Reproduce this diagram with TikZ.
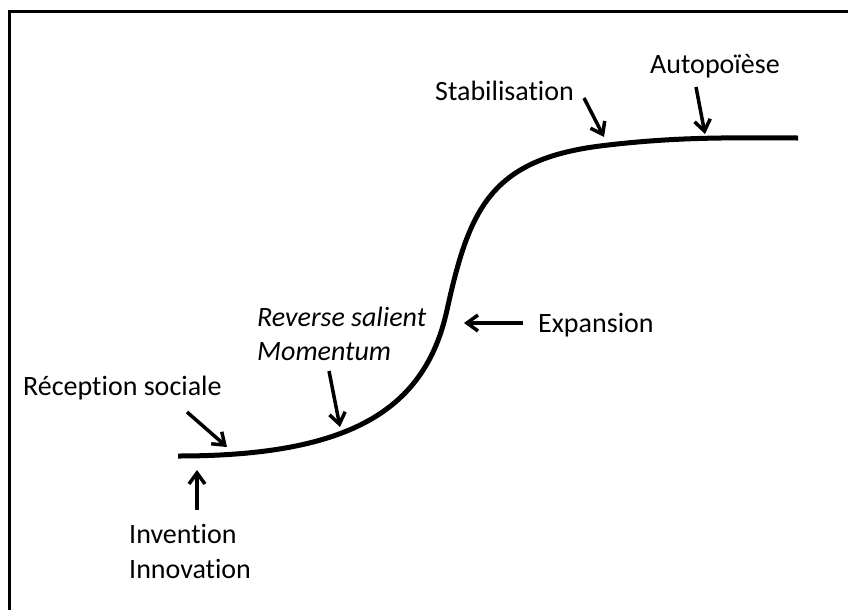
\documentclass[tikz,border=0pt]{standalone}
\usepackage{fontspec}
\setmainfont{Carlito}[Ligatures=NoCommon]
\usetikzlibrary{arrows.meta,positioning}

\begin{document}
\begin{tikzpicture}[x=1pt, y=-1pt,
        every node/.style={inner sep=0pt, anchor=base west, font=\fontsize{28}{35}\selectfont},
        pointer/.style={line width=3.5pt, -{Straight Barb[length=11pt, width=16pt]}},
        curve/.style={line width=5pt}
      ]
        \useasboundingbox (0,0) rectangle (848,610);
        % frame (left and top edges only)
        \draw[line width=3pt] (9,610) -- (9,12) -- (848,12);

        % labels
        \node (autopoiese) at (650,74) {Autopoïèse};
        \node (stabilisation) at (435,100) {Stabilisation};
        \node (reverse) at (257,326) {\textit{Reverse salient}};
        \node (momentum) at ([yshift=-34pt]reverse.base west) {\textit{Momentum}};
        \node (reception) at (23,395) {Réception sociale};
        \node (expansion) at (538,332) {Expansion};
        \node (invention) at (129,543) {Invention};
        \node (innovation) at ([yshift=-35pt]invention.base west) {Innovation};

        % S-curve
        \coordinate (start) at (178,456);
        \coordinate (bend) at (447,310);
        \coordinate (knee) at (600,146);
        \coordinate (end) at (798,138);
        \draw[curve] (start) .. controls (350,456) and (425,410) .. (bend)
          .. controls (469,210) and (490,160) .. (knee)
          .. controls (680,136) and (740,138) .. (end);

        % arrows
        \coordinate (autoTail) at (696,87);
        \coordinate (autoTip) at (705,134);
        \coordinate (stabTail) at (584,98);
        \coordinate (stabTip) at (604,137);
        \coordinate (expTail) at (523,323);
        \coordinate (expTip) at (464,323);
        \coordinate (momTail) at (329,371);
        \coordinate (momTip) at (340,427);
        \coordinate (recTail) at (187,412);
        \coordinate (recTip) at (227,447);
        \coordinate (invTail) at (197,510);
        \coordinate (invTip) at (197,470);
        \draw[pointer] (autoTail) -- (autoTip);
        \draw[pointer] (stabTail) -- (stabTip);
        \draw[pointer] (expTail) -- (expTip);
        \draw[pointer] (momTail) -- (momTip);
        \draw[pointer] (recTail) -- (recTip);
        \draw[pointer] (invTail) -- (invTip);
      \end{tikzpicture}
\end{document}
